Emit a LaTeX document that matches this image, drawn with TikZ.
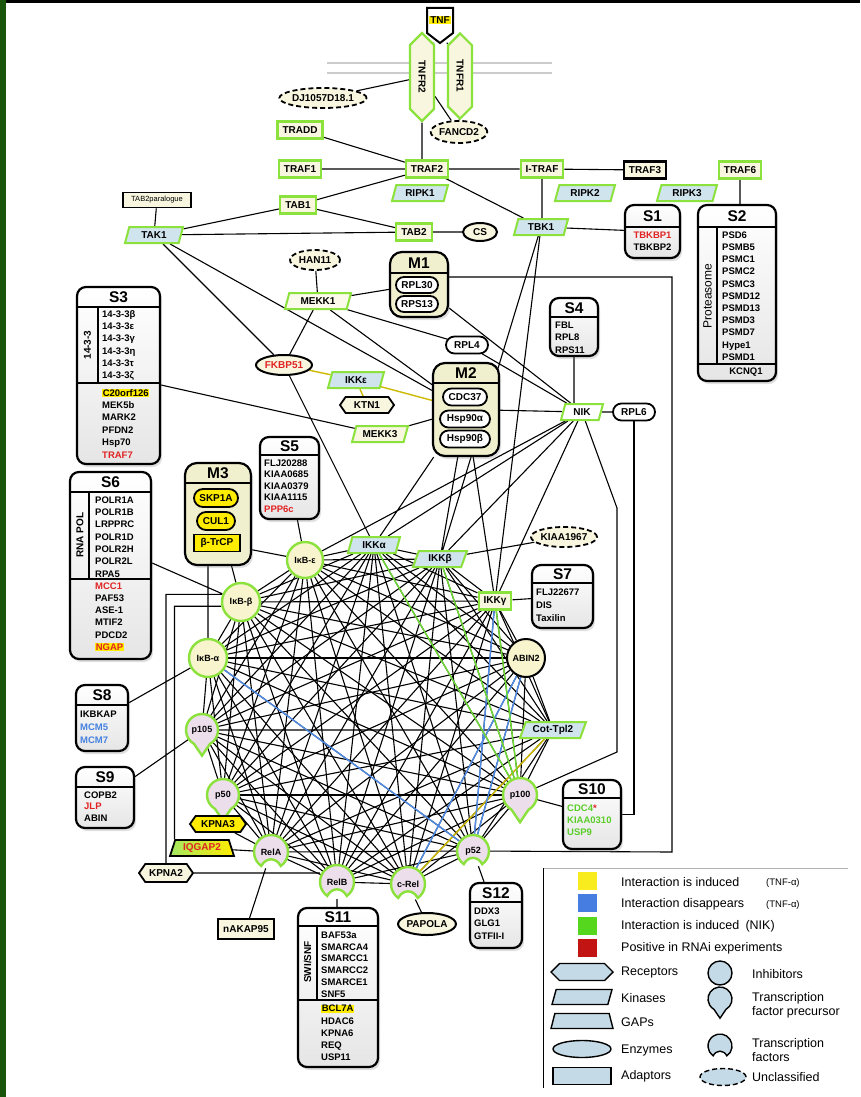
\documentclass[tikz,border=0pt]{standalone}
\usepackage{fontspec}
\setmainfont{Liberation Sans}
\usetikzlibrary{shapes.geometric,shapes.misc,shapes.symbols,shadows}
\pgfdeclarelayer{back}
\pgfdeclarelayer{edges}
\pgfsetlayers{back,edges,main}
\definecolor{kgreen}{RGB}{140,226,60}
\definecolor{adfill}{RGB}{248,246,222}
\definecolor{kfill}{RGB}{208,228,238}
\definecolor{infill}{RGB}{248,244,205}
\definecolor{tffill}{RGB}{236,222,234}
\definecolor{mfill}{RGB}{241,240,206}
\definecolor{hly}{RGB}{255,236,0}
\definecolor{tred}{RGB}{225,35,35}
\definecolor{tblue}{RGB}{70,130,225}
\definecolor{tgreen}{RGB}{90,205,40}
\definecolor{eyel}{RGB}{205,185,0}
\definecolor{eblue}{RGB}{80,140,230}
\definecolor{egreen}{RGB}{110,220,50}
\definecolor{lgbox}{RGB}{196,218,230}
\definecolor{dgreen}{RGB}{25,85,10}
\definecolor{rnai}{RGB}{195,20,20}
\definecolor{lyel}{RGB}{248,236,30}
\definecolor{lblue}{RGB}{70,125,225}
\definecolor{lgreen}{RGB}{85,215,30}
\newcommand\hl[1]{{\setlength\fboxsep{0.6pt}\colorbox{hly}{#1}}}
\newcommand\nf{\fontsize{10}{11}\selectfont\bfseries}
\newcommand\hf{\fontsize{9}{10}\selectfont\bfseries}
\newcommand\tf{\fontsize{15.5}{15}\selectfont\bfseries}
\newcommand\lf{\fontsize{12.5}{14}\selectfont}
\newcommand\ITM[4]{\node[anchor=north west,inner sep=0pt,align=left,font=\fontsize{9.5}{#3}\selectfont\bfseries] at (#1,#2) {#4};}
\newcommand\SBx[7]{%
  \node[sBox,minimum width={#4-#2},minimum height={#5-#3}] (#1) at ({(#2+#4)/2},{(#3+#5)/2}) {};
  \draw[line width=1.2pt] (#2,#6) -- (#4,#6);
  \node[font=\tf] at ({(#2+#4)/2},{(#3+#6)/2+0.5}) {#7};}
\newcommand\MBx[7]{%
  \node[mBox,minimum width={#4-#2},minimum height={#5-#3}] (#1) at ({(#2+#4)/2},{(#3+#5)/2}) {};
  \draw[line width=1.2pt] (#2,#6) -- (#4,#6);
  \node[font=\tf] at ({(#2+#4)/2},{(#3+#6)/2+0.5}) {#7};}
\newcommand\DROP[4]{\begin{scope}[shift={(#1,#2)}]\draw[#4] (-60:#3pt) arc[start angle=-60,end angle=240,radius=#3pt] -- (0pt,{-1.6*#3pt}) -- cycle;\end{scope}}
\newcommand\TFS[4]{\begin{scope}[shift={(#1,#2)}]\draw[#4] (-55:#3pt) arc[start angle=-55,end angle=235,radius=#3pt] .. controls ({-0.3*#3pt},{-0.3*#3pt}) and ({0.3*#3pt},{-0.3*#3pt}) .. (-55:#3pt) -- cycle;\end{scope}}
\begin{document}
\begin{tikzpicture}[x=1pt,y=-1pt,
 eLine/.style={line width=1.1pt},
 nAd/.style={rectangle,draw=kgreen,line width=2.2pt,fill=adfill,font=\nf,inner xsep=5pt,inner ysep=0pt,minimum height=17pt},
 nAdB/.style={nAd,draw=black},
 nKin/.style={trapezium,trapezium left angle=58,trapezium right angle=122,trapezium stretches body,draw=kgreen,line width=2pt,fill=kfill,font=\nf,inner xsep=1pt,inner ysep=0pt,minimum height=16pt},
 nEnz/.style={ellipse,draw=black,line width=2pt,fill=adfill,font=\nf,inner sep=0pt},
 nUnc/.style={ellipse,draw=black,dash pattern=on 5pt off 3pt,line width=1.8pt,fill=adfill,font=\nf,inner sep=0pt},
 nRR/.style={rounded rectangle,draw=black,line width=1.8pt,fill=white,font=\nf,inner sep=0pt},
 nHex/.style={signal,signal to=east and west,signal pointer angle=110,draw=black,line width=1.8pt,fill=adfill,font=\nf,inner ysep=0pt,inner xsep=2pt},
 nRec/.style={signal,signal to=north and south,draw=kgreen,line width=2.2pt,fill=adfill,font=\nf,inner sep=0pt},
 nInh/.style={circle,draw=kgreen,line width=2.4pt,fill=infill,font=\hf,inner sep=0pt},
 nGap/.style={trapezium,trapezium left angle=60,trapezium right angle=60,trapezium stretches body,draw=black,line width=1.8pt,left color=kgreen!80,right color=hly,font=\nf,inner sep=0pt},
 sBox/.style={rectangle,rounded corners=9pt,draw=black,line width=2.2pt,top color=white,bottom color=gray!20,drop shadow={opacity=0.25,shadow xshift=2pt,shadow yshift=-3pt}},
 mBox/.style={rectangle,rounded corners=12pt,draw=black,line width=2.2pt,fill=mfill,drop shadow={opacity=0.25,shadow xshift=2pt,shadow yshift=-3pt}},
 tfpS/.style={draw=kgreen,line width=2.4pt,fill=tffill},
 lgS/.style={draw=black,line width=1.4pt,fill=lgbox},
 hubN/.style={circle,inner sep=0pt,font=\hf}
]
\begin{pgfonlayer}{back}
 \fill[white] (0,0) rectangle (860,1097);
 \fill[black] (0,0) rectangle (860,3);
 \fill[dgreen] (0,0) rectangle (6,1097);
\end{pgfonlayer}
\useasboundingbox (0,0) rectangle (860,1097);

% ---------- top ----------
\draw[line width=2pt,fill=white] (427,8) -- (453,8) -- (453,33) -- (440,43) -- (427,33) -- cycle;
\node[inner sep=0pt,minimum width=26pt,minimum height=35pt] (TNF) at (440,25) {};
\node[fill=hly,inner sep=1pt,font=\nf] at (440,20) {TNF};
\node[nRec,minimum width=24pt,minimum height=71pt] (TNFR2) at (422,77) {\rotatebox{-90}{TNFR2}};
\node[nRec,minimum width=24pt,minimum height=68pt] (TNFR1) at (460,76) {\rotatebox{-90}{TNFR1}};
\node[nUnc,minimum width=80pt,minimum height=20pt] (DJ) at (323,98) {DJ1057D18.1};
\node[nUnc,minimum width=52pt,minimum height=22pt] (FANCD2) at (459,132) {FANCD2};
\node[nAd] (TRADD) at (300,130) {TRADD};
\node[nAd] (TRAF1) at (300,169) {TRAF1};
\node[nAd] (TRAF2) at (427,169) {TRAF2};
\node[nAd] (ITRAF) at (542,169) {I-TRAF};
\node[nAdB] (TRAF3) at (645,170) {TRAF3};
\node[nAd] (TRAF6) at (740,170) {TRAF6};
\node[nKin,minimum width=56pt] (RIPK1) at (420,193) {RIPK1};
\node[nKin,minimum width=60pt] (RIPK2) at (585,193) {RIPK2};
\node[nKin,minimum width=60pt] (RIPK3) at (687,193) {RIPK3};
\node[nAd] (TAB1) at (298,205) {TAB1};
\node[nAdB,font=\fontsize{7.5}{8}\selectfont,minimum height=15pt,minimum width=68pt,line width=1.8pt] (TABp) at (157,200) {TAB2paralogue};
\node[nKin,minimum width=58pt] (TAK1) at (154,235) {TAK1};
\node[nAd] (TAB2) at (414,232) {TAB2};
\node[nEnz,minimum width=34pt,minimum height=18pt] (CS) at (480,232) {CS};
\node[nKin,minimum width=54pt] (TBK1) at (541,227) {TBK1};

% ---------- S boxes ----------
\SBx{S1}{625}{205}{680}{258}{227}{S1}
\node[align=center,font=\fontsize{9.5}{12}\selectfont\bfseries] at (652.5,241) {\textcolor{tred}{TBKBP1}\\TBKBP2};
\SBx{S2}{698}{205}{776}{381}{227}{S2}
\draw[line width=1.2pt] (717,227) -- (717,364) (698,364) -- (776,364);
\ITM{722}{231.5}{12.2}{PSD6\\PSMB5\\PSMC1\\PSMC2\\PSMC3\\PSMD12\\PSMD13\\PSMD3\\PSMD7\\Hype1\\PSMD1}
\node[font=\bfseries\fontsize{9.5}{10}\selectfont] at (746,372.5) {KCNQ1};
\node[font=\fontsize{12}{12}\selectfont] at (707.5,296) {\rotatebox{90}{Proteasome}};
\SBx{S3}{77}{287}{160}{464}{307}{S3}
\draw[line width=1.2pt] (98,307) -- (98,383) (77,383) -- (160,383);
\ITM{102}{310.5}{12.2}{14-3-3β\\14-3-3ε\\14-3-3γ\\14-3-3η\\14-3-3τ\\14-3-3ζ}
\ITM{102}{388.5}{12.4}{\hl{C20orf126}\\MEK5b\\MARK2\\PFDN2\\Hsp70\\\textcolor{tred}{TRAF7}}
\node[font=\nf] at (87.5,345) {\rotatebox{90}{14-3-3}};
\SBx{S4}{550}{298}{598}{356}{317}{S4}
\ITM{555}{321.5}{12.5}{FBL\\RPL8\\RPS11}
\SBx{S5}{260}{437}{319}{519}{455}{S5}
\ITM{264}{459.5}{11.5}{FLJ20288\\KIAA0685\\KIAA0379\\KIAA1115\\\textcolor{tred}{PPP6c}}
\SBx{S6}{70}{472}{151}{659}{492}{S6}
\draw[line width=1.2pt] (89,492) -- (89,579) (70,579) -- (151,579);
\ITM{95}{496.5}{12.3}{POLR1A\\POLR1B\\LRPPRC\\POLR1D\\POLR2H\\POLR2L\\RPA5}
\ITM{95}{582.5}{12.2}{\textcolor{tred}{MCC1}\\PAF53\\ASE-1\\MTIF2\\PDCD2\\\hl{\textcolor{tred}{NGAP}}}
\node[font=\nf] at (80,535) {\rotatebox{90}{RNA POL}};
\SBx{S7}{532}{565}{593}{628}{583}{S7}
\ITM{536}{588.5}{13}{FLJ22677\\DIS\\Taxilin}
\SBx{S8}{76}{685}{128}{751}{705}{S8}
\ITM{80}{710.5}{13}{IKBKAP\\\textcolor{tblue}{MCM5}\\\textcolor{tblue}{MCM7}}
\SBx{S9}{76}{767}{134}{828}{787}{S9}
\ITM{84}{791.5}{11.5}{COPB2\\\textcolor{tred}{JLP}\\ABIN}
\SBx{S10}{563}{780}{621}{849}{798}{S10}
\ITM{567}{804.5}{12}{\textcolor{tgreen}{CDC4}\textcolor{tred}{*}\\\textcolor{tgreen}{KIAA0310}\\\textcolor{tgreen}{USP9}}
\SBx{S11}{298}{908}{378}{1067}{926}{S11}
\draw[line width=1.2pt] (317,926) -- (317,1000) (298,1000) -- (378,1000);
\ITM{321}{931.5}{11.8}{BAF53a\\SMARCA4\\SMARCC1\\SMARCC2\\SMARCE1\\SNF5}
\ITM{321}{1004.5}{12.25}{\hl{BCL7A}\\HDAC6\\KPNA6\\REQ\\USP11}
\node[font=\nf] at (307.5,962) {\rotatebox{90}{SWI/SNF}};
\SBx{S12}{470}{883}{522}{948}{902}{S12}
\ITM{474}{907.5}{12.5}{DDX3\\GLG1\\GTFII-I}

% ---------- M boxes ----------
\MBx{M1}{390}{252}{448}{317}{273}{M1}
\node[nRR,minimum width=42pt,minimum height=16pt] (RPL30) at (417,285) {RPL30};
\node[nRR,minimum width=42pt,minimum height=16pt] (RPS13) at (417,304) {RPS13};
\MBx{M2}{433}{363}{499}{456}{383}{M2}
\node[nRR,minimum width=44pt,minimum height=17pt] (CDC37) at (465,397) {CDC37};
\node[nRR,minimum width=50pt,minimum height=17pt] (Hspa) at (465,419) {Hsp90α};
\node[nRR,minimum width=50pt,minimum height=17pt] (Hspb) at (465,439) {Hsp90β};
\MBx{M3}{185}{463}{251}{565}{483}{M3}
\node[nRR,fill=hly,minimum width=44pt,minimum height=18pt] (SKP1A) at (216,498) {SKP1A};
\node[nRR,fill=hly,minimum width=38pt,minimum height=18pt] (CUL1) at (216,521) {CUL1};
\node[rectangle,draw=black,line width=1.8pt,fill=hly,font=\nf,minimum width=46pt,minimum height=17pt,inner sep=0pt] (bTrCP) at (217,543) {β-TrCP};

% ---------- middle ----------
\node[nUnc,minimum width=50pt,minimum height=20pt] (HAN11) at (315,260) {HAN11};
\node[nKin,minimum width=66pt,fill=white!40!adfill] (MEKK1) at (318,301) {MEKK1};
\node[nEnz,minimum width=56pt,minimum height=20pt,text=tred] (FKBP51) at (284,365) {FKBP51};
\node[nKin,minimum width=56pt] (IKKe) at (356,380) {IKKε};
\node[nHex,minimum width=54pt,minimum height=16pt] (KTN1) at (367,405) {KTN1};
\node[nKin,minimum width=56pt,fill=adfill] (MEKK3) at (380,434) {MEKK3};
\node[nRR,minimum width=42pt,minimum height=17pt] (RPL4) at (467,345) {RPL4};
\node[nKin,minimum width=42pt,fill=white] (NIK) at (582,412) {NIK};
\node[nRR,minimum width=42pt,minimum height=17pt] (RPL6) at (634,412) {RPL6};
\node[nUnc,minimum width=58pt,minimum height=20pt] (KIAA) at (564,537) {KIAA1967};

% ---------- hub ----------
\node[nInh,minimum size=36pt] (IkBe) at (305,560) {IκB-ε};
\node[nKin,minimum width=52pt] (IKKa) at (374,545) {IKKα};
\node[nKin,minimum width=54pt] (IKKb) at (440,559) {IKKβ};
\node[nAd] (IKKg) at (495,601) {IKKγ};
\node[nInh,minimum size=38pt] (IkBb) at (241,602) {IκB-β};
\node[nInh,minimum size=38pt] (IkBa) at (208,658) {IκB-α};
\node[nInh,minimum size=38pt,draw=black,line width=2pt] (ABIN2) at (526,658) {ABIN2};
\node[nKin,minimum width=66pt] (Cot) at (553,730) {Cot-Tpl2};
\DROP{202}{730}{16}{tfpS}\node[hubN,minimum size=32pt] (p105) at (202,730) {p105};
\DROP{223}{795}{16}{tfpS}\node[hubN,minimum size=32pt] (p50) at (223,795) {p50};
\DROP{520}{795}{17}{tfpS}\node[hubN,minimum size=34pt] (p100) at (520,795) {p100};
\TFS{271}{852}{17}{tfpS}\node[hubN,minimum size=34pt] (RelA) at (271,852) {RelA};
\TFS{473}{851}{16}{tfpS}\node[hubN,minimum size=32pt] (p52) at (473,851) {p52};
\TFS{337}{882}{17}{tfpS}\node[hubN,minimum size=34pt] (RelB) at (337,882) {RelB};
\TFS{408}{884}{17}{tfpS}\node[hubN,minimum size=34pt] (cRel) at (408,884) {c-Rel};

% ---------- lower periphery ----------
\node[nHex,fill=hly,minimum width=56pt,minimum height=16pt] (KPNA3) at (218,824) {KPNA3};
\node[nGap,minimum width=64pt,minimum height=16pt,text=tred] (IQGAP2) at (202,848) {IQGAP2};
\node[nHex,minimum width=54pt,minimum height=18pt] (KPNA2) at (166,873) {KPNA2};
\node[nAdB,minimum height=20pt] (nAKAP) at (246,929) {nAKAP95};
\node[nEnz,minimum width=54pt,minimum height=22pt] (PAPOLA) at (427,924) {PAPOLA};

% ---------- edges ----------
\begin{pgfonlayer}{edges}
\draw[gray!40,line width=1.6pt] (327,63) -- (552,63) (327,73) -- (552,73);
\draw[eLine] (TNF) -- (TNFR2) (TNF) -- (TNFR1) (DJ) -- (TNFR2)
 (TNFR2) -- (FANCD2) (TNFR1) -- (FANCD2)
 (TNFR2.south) -- (TNFR2.south |- TRAF2.north)
 (TRADD) -- (TRAF2) (TRAF1) -- (TRAF2) (TRAF2) -- (ITRAF) (ITRAF) -- (TRAF3)
 (TRAF2) -- (TAB1) (TRAF2) -- (TBK1) (ITRAF.south) -- (ITRAF.south |- TBK1.north)
 (TABp) -- (TAK1) (TAK1) -- (TAB1) (TAK1) -- (TAB2) (TAB1) -- (TAB2) (TAB2) -- (CS)
 (TBK1) -- (S1) (TRAF6.south) -- (TRAF6.south |- S2.north)
 (HAN11) -- (MEKK1) (MEKK1) -- (M1) (MEKK1) -- (M2) (MEKK1) -- (RPL4) (MEKK1) -- (FKBP51)
 (TAK1) -- (FKBP51) (TAK1) -- (M2) (FKBP51) -- (IKKa)
 (S3) -- (MEKK3) (MEKK3) -- (M2)
 (M1) -- (NIK) (RPL4) -- (NIK) (M2) -- (NIK) (S4.south) -- (S4.south |- NIK.north) (NIK) -- (RPL6)
 (M2) -- (IKKa) (M2) -- (IKKb) (M2) -- (IKKg)
 (NIK) -- (IKKa) (NIK) -- (IKKb) (NIK) -- (IKKg) (NIK) -- (IkBe)
 (TBK1) -- (IKKg) (TBK1) -- (IKKb) (KIAA) -- (IKKb)
 (S5) -- (IkBe) (bTrCP) -- (IkBe) (M3) -- (IkBb) (M3.south -| IkBa.north) -- (IkBa.north)
 (S6.east |- 0,563) -- (IkBb) (S7) -- (IKKg) (S8) -- (IkBa) (S9) -- (p105)
 (S10) -- (p100) (S12) -- (p52) (S11.north -| RelB.south) -- (RelB.south) (PAPOLA) -- (cRel)
 (nAKAP) -- (RelA) (IQGAP2) -- (RelA) (KPNA3) -- (RelA) (KPNA3) -- (p50)
 (KPNA2.east) -- (KPNA2.east -| RelB.west)
 (KPNA2.north) |- (IkBb.158)
 (IQGAP2.top left corner) |- (IkBb.192);
\draw[eLine] (M1.east |- 0,277) -- (672,277) -- (672,852) -- (p52);
\draw[eLine] (NIK) -- (617,508) -- (617,752) -- (p100);
\draw[eLine] (RPL6.south) |- (S10.east);
\foreach \a [count=\i] in {IkBe,IKKa,IKKb,IKKg,IkBb,IkBa,ABIN2,p105,Cot,p50,p100,RelA,p52,RelB,cRel}{
  \foreach \b [count=\j] in {IkBe,IKKa,IKKb,IKKg,IkBb,IkBa,ABIN2,p105,Cot,p50,p100,RelA,p52,RelB,cRel}{
    \ifnum\j>\i \draw[eLine] (\a) -- (\b); \fi }}
\draw[eLine,eyel,line width=1.4pt] (FKBP51) -- (IKKe) (IKKe) -- (M2) (IKKe) -- (KTN1) (Cot) -- (cRel);
\draw[eLine,eblue,line width=1.4pt] (IkBa) -- (p52) (IKKg) -- (p52) (ABIN2) -- (p52) (ABIN2) -- (cRel);
\draw[eLine,egreen,line width=1.4pt] (IKKa) -- (p100) (IKKb) -- (p100) (IKKg) -- (p100);
\end{pgfonlayer}

% ---------- legend ----------
\draw[gray!60,line width=1pt] (543,868) -- (848,868);
\draw[line width=0.8pt] (543,868) -- (543,1088);
\fill[lyel] (578,872) rectangle (597,890);
\fill[lblue] (578,894) rectangle (597,912);
\fill[lgreen] (578,917) rectangle (597,935);
\fill[rnai] (578,939) rectangle (597,957);
\node[anchor=west,font=\lf,inner sep=0pt] (L1) at (621,882) {Interaction is induced};
\node[anchor=west,font=\fontsize{9.5}{10}\selectfont,inner sep=0pt] at (766,883) {(TNF-α)};
\node[anchor=west,font=\lf,inner sep=0pt] (L2) at (621,904) {Interaction disappears};
\node[anchor=west,font=\fontsize{9.5}{10}\selectfont,inner sep=0pt] at (766,905) {(TNF-α)};
\node[anchor=west,font=\lf,inner sep=0pt] (L3) at (621,926) {Interaction is induced\enspace(NIK)};
\node[anchor=west,font=\lf,inner sep=0pt] (L4) at (621,948) {Positive in RNAi experiments};
\node[signal,signal to=east and west,lgS,minimum width=62pt,minimum height=17pt] (Lrec) at (582,972) {};
\node[anchor=west,font=\lf,inner sep=0pt] at (621,972) {Receptors};
\node[trapezium,trapezium left angle=58,trapezium right angle=122,trapezium stretches body,lgS,minimum width=60pt,minimum height=15pt] (Lkin) at (582,997) {};
\node[anchor=west,font=\lf,inner sep=0pt] at (621,998) {Kinases};
\node[trapezium,trapezium left angle=60,trapezium right angle=60,trapezium stretches body,lgS,minimum width=62pt,minimum height=15pt] (Lgap) at (582,1021) {};
\node[anchor=west,font=\lf,inner sep=0pt] at (621,1022) {GAPs};
\node[ellipse,lgS,minimum width=58pt,minimum height=17pt] (Lenz) at (582,1049) {};
\node[anchor=west,font=\lf,inner sep=0pt] at (621,1050) {Enzymes};
\node[rectangle,lgS,minimum width=58pt,minimum height=17pt] (Lad) at (582,1076) {};
\node[anchor=west,font=\lf,inner sep=0pt] at (621,1076) {Adaptors};
\node[circle,lgS,minimum size=24pt] (Linh) at (720,973) {};
\node[anchor=west,font=\lf,inner sep=0pt] at (752,974) {Inhibitors};
\DROP{720}{999}{12}{lgS}
\node[anchor=west,font=\lf,align=left,inner sep=0pt] at (752,1005) {Transcription\\factor precursor};
\TFS{720}{1046}{12}{lgS}
\node[anchor=west,font=\lf,align=left,inner sep=0pt] at (752,1050) {Transcription\\factors};
\node[ellipse,lgS,dash pattern=on 5pt off 3pt,minimum width=46pt,minimum height=17pt] (Lunc) at (723,1077) {};
\node[anchor=west,font=\lf,inner sep=0pt] at (752,1077) {Unclassified};
\end{tikzpicture}
\end{document}
